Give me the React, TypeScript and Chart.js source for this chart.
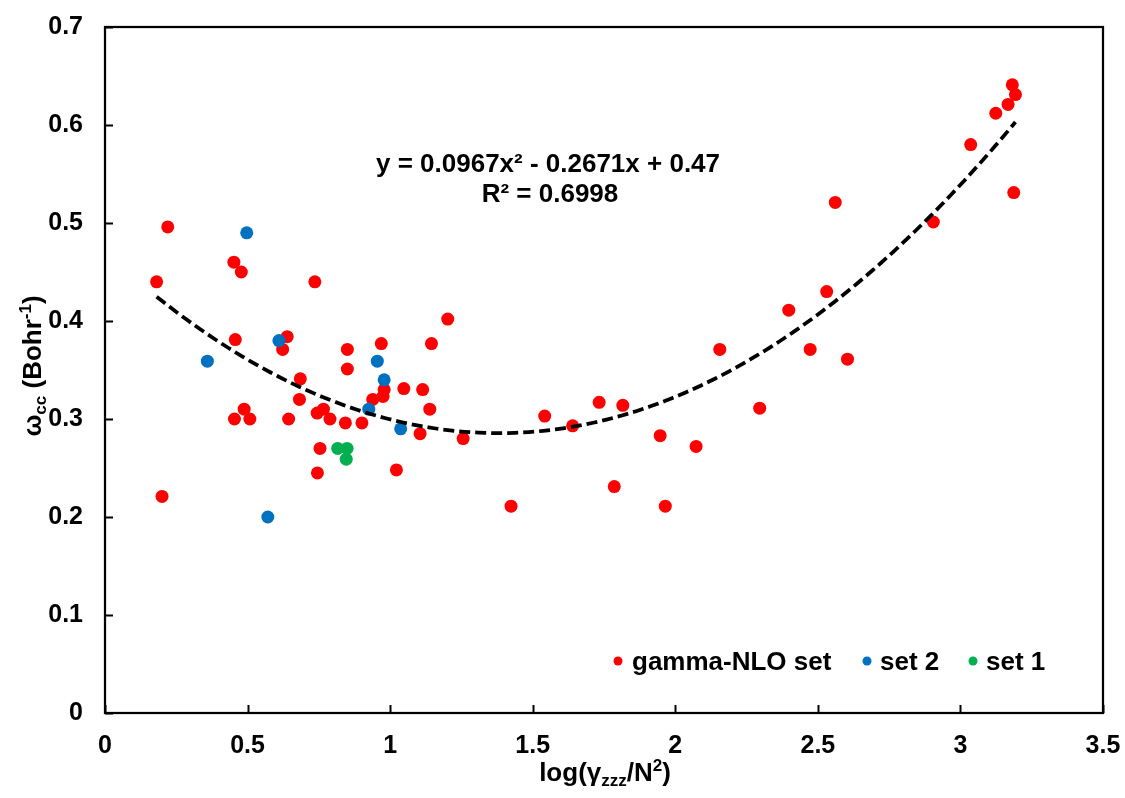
import React, { useEffect, useRef } from "react";
import { Chart, registerables } from "chart.js";

Chart.register(...registerables);

// ---- Data ----
const gammaX = [
  0.181, 0.220, 0.200, 0.452, 0.478, 0.457, 0.454, 0.488, 0.508, 0.639,
  0.623, 0.736, 0.850, 0.850, 0.969, 0.685, 0.682, 0.644, 0.744, 0.766,
  0.789, 0.843, 0.901, 0.754, 0.745, 1.202, 1.145, 1.048, 1.114, 0.979,
  0.975, 0.939, 1.139, 1.105, 1.256, 1.022, 1.542, 1.424, 1.640, 1.733,
  1.816, 1.786, 1.965, 1.947, 2.073, 2.156, 2.296, 2.398, 2.473, 2.531,
  2.604, 2.561, 2.905, 3.036, 3.124, 3.167, 3.182, 3.193, 3.187,
];
const gammaY = [
  0.440, 0.496, 0.221, 0.460, 0.450, 0.381, 0.300, 0.310, 0.300, 0.384,
  0.371, 0.440, 0.371, 0.351, 0.377, 0.341, 0.320, 0.300, 0.306, 0.310,
  0.300, 0.296, 0.296, 0.270, 0.245, 0.402, 0.377, 0.331, 0.330, 0.330,
  0.323, 0.320, 0.310, 0.285, 0.280, 0.248, 0.303, 0.211, 0.293, 0.317,
  0.314, 0.231, 0.211, 0.283, 0.272, 0.371, 0.311, 0.411, 0.371, 0.430,
  0.361, 0.521, 0.501, 0.580, 0.612, 0.621, 0.641, 0.631, 0.531,
];
const set2X = [0.497, 0.610, 0.359, 0.955, 0.979, 0.925, 1.037, 0.571];
const set2Y = [0.490, 0.380, 0.359, 0.359, 0.340, 0.310, 0.290, 0.200];
const set1X = [0.816, 0.849, 0.846];
const set1Y = [0.270, 0.270, 0.259];

const seriesNames = ["gamma-NLO set", "set 2", "set 1"];
const seriesColors = ["#FF0000", "#0070C0", "#00B050"];

const xTicks = [0, 0.5, 1, 1.5, 2, 2.5, 3, 3.5];
const yTicks = [0, 0.1, 0.2, 0.3, 0.4, 0.5, 0.6, 0.7];

// Polynomial trendline as printed on the chart
const trendCoeffs = [0.0967, -0.2671, 0.47]; // a x^2 + b x + c
const trendStart = 0.181;
const trendEnd = 3.193;
const equationLabel = "y = 0.0967x\u00B2 - 0.2671x + 0.47";
const r2Label = "R\u00B2 = 0.6998";

const FONT = "'Liberation Sans', Arial, Helvetica, sans-serif";

type Seg = { text: string; size: number; dy?: number };

function drawRich(ctx: CanvasRenderingContext2D, segs: Seg[], x: number, y: number) {
  let total = 0;
  for (const s of segs) {
    ctx.font = `bold ${s.size}px ${FONT}`;
    total += ctx.measureText(s.text).width;
  }
  let cx = x - total / 2;
  ctx.textAlign = "left";
  ctx.textBaseline = "alphabetic";
  for (const s of segs) {
    ctx.font = `bold ${s.size}px ${FONT}`;
    ctx.fillText(s.text, cx, y + (s.dy || 0));
    cx += ctx.measureText(s.text).width;
  }
}

const decorPlugin = {
  id: "decor",
  beforeDatasetsDraw(chart: any) {
    const { ctx, chartArea: a, scales } = chart;
    const xs = scales.x;
    const ys = scales.y;
    ctx.save();
    ctx.strokeStyle = "#000";
    ctx.lineWidth = 2.25;
    ctx.strokeRect(a.left, a.top, a.right - a.left, a.bottom - a.top);
    ctx.lineWidth = 2;
    ctx.beginPath();
    for (const v of xTicks) {
      const px = Math.round(xs.getPixelForValue(v)) + 0.5;
      ctx.moveTo(px, a.bottom);
      ctx.lineTo(px, a.bottom - 8);
    }
    for (const v of yTicks) {
      const py = Math.round(ys.getPixelForValue(v)) + 0.5;
      ctx.moveTo(a.left, py);
      ctx.lineTo(a.left + 8, py);
    }
    ctx.stroke();
    ctx.restore();
  },
  afterDraw(chart: any) {
    const { ctx } = chart;
    ctx.save();
    ctx.fillStyle = "#000";

    // Trendline equation
    drawRich(ctx, [{ text: equationLabel, size: 26 }], 548, 172);
    drawRich(ctx, [{ text: r2Label, size: 26 }], 550, 202);

    // X axis title: log(γzzz/N²)
    drawRich(
      ctx,
      [
        { text: "log(\u03B3", size: 26 },
        { text: "zzz", size: 17, dy: 5 },
        { text: "/N", size: 26 },
        { text: "2", size: 17, dy: -10 },
        { text: ")", size: 26 },
      ],
      605,
      781
    );

    // Y axis title: ωcc (Bohr-1)
    ctx.save();
    ctx.translate(41, 366);
    ctx.rotate(-Math.PI / 2);
    drawRich(
      ctx,
      [
        { text: "\u03C9", size: 26 },
        { text: "cc", size: 17, dy: 5 },
        { text: " (Bohr", size: 26 },
        { text: "-1", size: 17, dy: -10 },
        { text: ")", size: 26 },
      ],
      0,
      0
    );
    ctx.restore();

    // Legend
    const items = [
      { dot: 618, text: 632 },
      { dot: 867, text: 880 },
      { dot: 973, text: 986 },
    ];
    ctx.font = `bold 26px ${FONT}`;
    ctx.textAlign = "left";
    ctx.textBaseline = "alphabetic";
    items.forEach((it, i) => {
      ctx.fillStyle = seriesColors[i];
      ctx.beginPath();
      ctx.arc(it.dot, 661, 4.5, 0, Math.PI * 2);
      ctx.fill();
      ctx.fillStyle = "#000";
      ctx.fillText(seriesNames[i], it.text, 670);
    });
    ctx.restore();
  },
};

function fmt(v: number) {
  return String(Number(v.toFixed(1)));
}

function zeroPad(s: any) {
  s.paddingTop = 0;
  s.paddingBottom = 0;
  s.paddingLeft = 0;
  s.paddingRight = 0;
}

export default function App() {
  const ref = useRef<HTMLCanvasElement | null>(null);

  useEffect(() => {
    if (!ref.current) return;
    const trend: { x: number; y: number }[] = [];
    const n = 120;
    for (let i = 0; i <= n; i++) {
      const x = trendStart + ((trendEnd - trendStart) * i) / n;
      trend.push({ x, y: trendCoeffs[0] * x * x + trendCoeffs[1] * x + trendCoeffs[2] });
    }
    const pts = (xs: number[], ys: number[]) => xs.map((x, i) => ({ x, y: ys[i] }));

    const tickFont = { size: 25, weight: "bold" as const, family: FONT };

    const chart = new Chart(ref.current, {
      type: "scatter",
      data: {
        datasets: [
          {
            label: "trend",
            data: trend,
            showLine: true,
            borderColor: "#000",
            borderWidth: 3.75,
            borderDash: [11, 5],
            pointRadius: 0,
            fill: false,
            order: 0,
          } as any,
          {
            label: seriesNames[0],
            data: pts(gammaX, gammaY),
            backgroundColor: seriesColors[0],
            borderColor: seriesColors[0],
            borderWidth: 0,
            pointRadius: 6.5,
            order: 3,
          },
          {
            label: seriesNames[1],
            data: pts(set2X, set2Y),
            backgroundColor: seriesColors[1],
            borderColor: seriesColors[1],
            borderWidth: 0,
            pointRadius: 6.5,
            order: 2,
          },
          {
            label: seriesNames[2],
            data: pts(set1X, set1Y),
            backgroundColor: seriesColors[2],
            borderColor: seriesColors[2],
            borderWidth: 0,
            pointRadius: 6.5,
            order: 1,
          },
        ],
      },
      options: {
        responsive: false,
        animation: false,
        devicePixelRatio: 1,
        layout: { padding: { left: 0, top: 27, right: 22, bottom: 0 } },
        plugins: {
          legend: { display: false },
          tooltip: { enabled: false },
        },
        scales: {
          x: {
            type: "linear",
            min: 0,
            max: 3.5,
            afterFit: (s: any) => {
              s.height = 85;
              zeroPad(s);
            },
            afterBuildTicks: (s: any) => {
              s.ticks = xTicks.map((v) => ({ value: v }));
            },
            ticks: {
              padding: 18,
              color: "#000",
              font: tickFont,
              maxRotation: 0,
              autoSkip: false,
              callback: (v: any) => fmt(Number(v)),
            },
            grid: { display: false, drawTicks: false },
            border: { display: false },
          },
          y: {
            type: "linear",
            min: 0,
            max: 0.7,
            afterFit: (s: any) => {
              s.width = 105;
              zeroPad(s);
            },
            afterBuildTicks: (s: any) => {
              s.ticks = yTicks.map((v) => ({ value: v }));
            },
            ticks: {
              padding: 22,
              color: "#000",
              font: tickFont,
              autoSkip: false,
              callback: (v: any) => fmt(Number(v)),
            },
            grid: { display: false, drawTicks: false },
            border: { display: false },
          },
        },
      },
      plugins: [decorPlugin],
    });
    return () => chart.destroy();
  }, []);

  return (
    <div
      style={{
        position: "fixed",
        left: 0,
        top: 0,
        width: 1125,
        height: 798,
        background: "#fff",
      }}
    >
      <canvas ref={ref} width={1125} height={798} style={{ display: "block" }} />
    </div>
  );
}
